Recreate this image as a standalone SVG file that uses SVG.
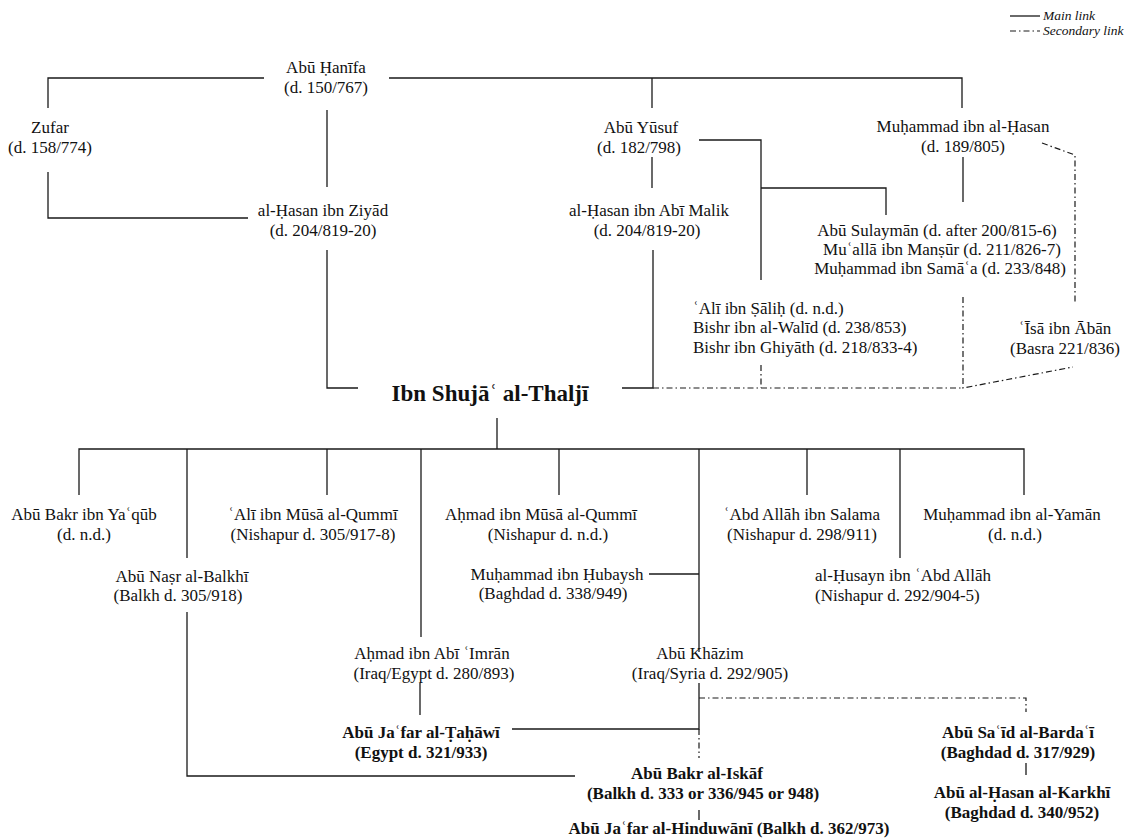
<svg xmlns="http://www.w3.org/2000/svg" width="1128" height="839" viewBox="0 0 1128 839">
<style>
text{font-family:"Liberation Serif","Times New Roman",serif;font-size:17px;fill:#111;text-anchor:middle}
.b{font-weight:bold}
.big{font-size:23px;font-weight:bold}
.l{text-anchor:start}
.lg{font-size:13.5px;font-style:italic;text-anchor:start}
.m{fill:none;stroke:#1a1a1a;stroke-width:1.3}
.s{fill:none;stroke:#1a1a1a;stroke-width:1.2;stroke-dasharray:6 3 1.5 3}
</style>
<rect width="1128" height="839" fill="#fff"/>
<g id="legend">
<path class="m" d="M1010,16H1040"/>
<path class="s" d="M1010,31H1040"/>
<text class="lg" x="1043" y="20">Main link</text>
<text class="lg" x="1043" y="35">Secondary link</text>
</g>
<g id="connectors">
<path class="m" d="M48,108V78H264"/>
<path class="m" d="M389,78H962V108"/>
<path class="m" d="M652,78V108"/>
<path class="m" d="M327,110V187"/>
<path class="m" d="M48,172V218H248"/>
<path class="m" d="M327,250V388H358"/>
<path class="m" d="M652,157V188"/>
<path class="m" d="M699,140H761V280"/>
<path class="m" d="M761,188H886V215"/>
<path class="m" d="M963,157V202"/>
<path class="m" d="M653,250V388H622"/>
<path class="m" d="M497,418V449"/>
<path class="m" d="M79,495V449H1024V495"/>
<path class="m" d="M187,449V558"/>
<path class="m" d="M327,449V495"/>
<path class="m" d="M421,449V637"/>
<path class="m" d="M559,449V495"/>
<path class="m" d="M699,449V652"/>
<path class="m" d="M807,449V495"/>
<path class="m" d="M900,449V558"/>
<path class="m" d="M649,574H699"/>
<path class="m" d="M420,683V715"/>
<path class="m" d="M187,612V776H575"/>
<path class="m" d="M512,729H699V683"/>
<path class="m" d="M1026,763V775"/>
<path class="m" d="M699,810V820"/>
<path class="s" d="M1042,143L1075,155V303"/>
<path class="s" d="M963,297V388L1073,367"/>
<path class="s" d="M653,388H963"/>
<path class="s" d="M761,365V388"/>
<path class="s" d="M699,729V758"/>
<path class="s" d="M699,698H1026V712"/>
</g>
<g id="abu-hanifa"><text x="326" y="73">Abū Ḥanīfa</text><text x="326" y="93">(d. 150/767)</text></g>
<g id="zufar"><text x="50" y="133">Zufar</text><text x="50" y="153">(d. 158/774)</text></g>
<g id="hasan-ziyad"><text x="323" y="216">al-Ḥasan ibn Ziyād</text><text x="323" y="236">(d. 204/819-20)</text></g>
<g id="abu-yusuf"><text x="641" y="133">Abū Yūsuf</text><text x="639" y="153">(d. 182/798)</text></g>
<g id="muhammad-hasan"><text x="963" y="132">Muḥammad ibn al-Ḥasan</text><text x="963" y="152">(d. 189/805)</text></g>
<g id="hasan-malik"><text x="649" y="216">al-Ḥasan ibn Abī Malik</text><text x="647" y="236">(d. 204/819-20)</text></g>
<g id="abu-sulayman"><text x="937" y="236">Abū Sulaymān (d. after 200/815-6)</text><text x="942" y="255">Muʿallā ibn Manṣūr (d. 211/826-7)</text><text x="940" y="274">Muḥammad ibn Samāʿa (d. 233/848)</text></g>
<g id="ali-salih"><text class="l" x="693" y="314">ʿAlī ibn Ṣāliḥ (d. n.d.)</text><text class="l" x="693" y="333">Bishr ibn al-Walīd (d. 238/853)</text><text class="l" x="693" y="353">Bishr ibn Ghiyāth (d. 218/833-4)</text></g>
<g id="isa-aban"><text x="1065" y="334">ʿĪsā ibn Ābān</text><text x="1065" y="354">(Basra 221/836)</text></g>
<g id="ibn-shuja"><text class="big" x="490" y="401">Ibn Shujāʿ al-Thaljī</text></g>
<g id="abu-bakr-yaqub"><text x="84" y="520">Abū Bakr ibn Yaʿqūb</text><text x="84" y="540">(d. n.d.)</text></g>
<g id="ali-musa"><text x="313" y="520">ʿAlī ibn Mūsā al-Qummī</text><text x="313" y="540">(Nishapur d. 305/917-8)</text></g>
<g id="ahmad-musa"><text x="541" y="520">Aḥmad ibn Mūsā al-Qummī</text><text x="548" y="540">(Nishapur d. n.d.)</text></g>
<g id="abd-allah-salama"><text x="802" y="520">ʿAbd Allāh ibn Salama</text><text x="802" y="540">(Nishapur d. 298/911)</text></g>
<g id="muhammad-yaman"><text x="1012" y="520">Muḥammad ibn al-Yamān</text><text x="1015" y="540">(d. n.d.)</text></g>
<g id="abu-nasr"><text x="182" y="582">Abū Naṣr al-Balkhī</text><text x="178" y="601">(Balkh d. 305/918)</text></g>
<g id="muhammad-hubaysh"><text x="557" y="580">Muḥammad ibn Ḥubaysh</text><text x="553" y="599">(Baghdad d. 338/949)</text></g>
<g id="husayn-abd-allah"><text class="l" x="815" y="581">al-Ḥusayn ibn ʿAbd Allāh</text><text class="l" x="815" y="601">(Nishapur d. 292/904-5)</text></g>
<g id="ahmad-imran"><text x="432" y="659">Aḥmad ibn Abī ʿImrān</text><text x="434" y="679">(Iraq/Egypt d. 280/893)</text></g>
<g id="abu-khazim"><text x="700" y="659">Abū Khāzim</text><text x="710" y="679">(Iraq/Syria d. 292/905)</text></g>
<g id="tahawi"><text class="b" x="421" y="738">Abū Jaʿfar al-Ṭaḥāwī</text><text class="b" x="421" y="758">(Egypt d. 321/933)</text></g>
<g id="bardai"><text class="b" x="1018" y="738">Abū Saʿīd al-Bardaʿī</text><text class="b" x="1018" y="758">(Baghdad d. 317/929)</text></g>
<g id="karkhi"><text class="b" x="1022" y="798">Abū al-Ḥasan al-Karkhī</text><text class="b" x="1022" y="818">(Baghdad d. 340/952)</text></g>
<g id="iskaf"><text class="b" x="697" y="779">Abū Bakr al-Iskāf</text><text class="b" x="703" y="799">(Balkh d. 333 or 336/945 or 948)</text></g>
<g id="hinduwani"><text class="b" x="729" y="834">Abū Jaʿfar al-Hinduwānī (Balkh d. 362/973)</text></g>
</svg>
